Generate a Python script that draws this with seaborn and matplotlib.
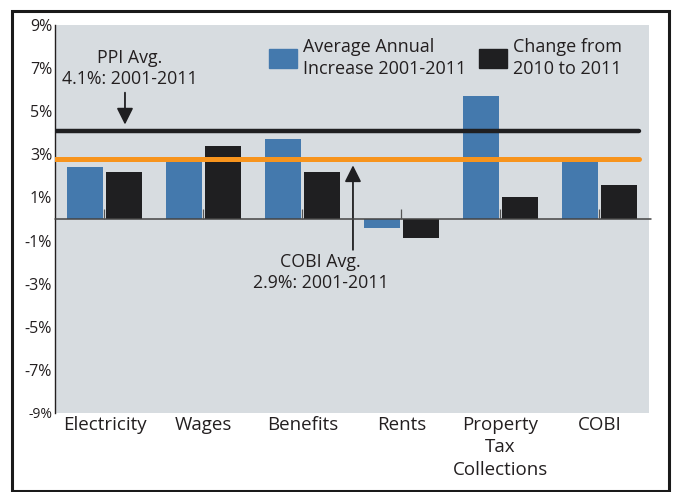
import pandas as pd
import numpy as np
import matplotlib
matplotlib.use("Agg")
import matplotlib.pyplot as plt
import matplotlib.patches as mpatches
import seaborn as sns

# datos
categorias = ["Electricity", "Wages", "Benefits", "Rents", "Property\nTax\nCollections", "COBI"]
promedio_anual = [2.4, 2.65, 3.7, -0.4, 5.7, 2.75]
cambio_2010_2011 = [2.2, 3.4, 2.2, -0.9, 1.0, 1.6]
series = ["Average Annual\nIncrease 2001-2011", "Change from\n2010 to 2011"]
ppi_avg = 4.1
cobi_avg = 2.8
yticks = [-9, -7, -5, -3, -1, 1, 3, 5, 7, 9]

azul = "#4479ad"
negro = "#1f1f21"
naranja = "#f7941d"
fondo = "#d7dce0"
texto = "#231f20"

df = pd.DataFrame({
    "Categoria": categorias * 2,
    "Valor": promedio_anual + cambio_2010_2011,
    "Serie": [series[0]] * len(categorias) + [series[1]] * len(categorias),
})

sns.set_style("white")
plt.rcParams["font.family"] = ["Open Sans", "DejaVu Sans"]

fig = plt.figure(figsize=(6.73, 4.92), dpi=100)
ax = fig.add_axes([0.0817, 0.1606, 0.8826, 0.7886])
ax.set_facecolor(fondo)

sns.barplot(data=df, x="Categoria", y="Valor", hue="Serie", palette=[azul, negro],
            width=0.77, gap=0.055, saturation=1, linewidth=0, ax=ax, legend=False)

# lineas de referencia
ax.axhline(ppi_avg, xmin=0, xmax=0.983, color=negro, lw=3.2, zorder=3)
ax.axhline(cobi_avg, xmin=0, xmax=0.983, color=naranja, lw=3.6, zorder=3)
ax.axhline(0, xmin=0, xmax=1.004, color="#444444", lw=1.1, zorder=4, clip_on=False)
ax.vlines(np.arange(len(categorias)), 0, 0.45, color="#555555", lw=0.9, zorder=4)

ax.set_xlim(-0.5, len(categorias) - 0.5)
ax.set_ylim(-9, 9)
ax.set_yticks(yticks)
ax.set_yticklabels([f"{v}%" for v in yticks], fontsize=11.5, color=texto)
ax.get_yticklabels()[0].set_fontsize(10)
ax.tick_params(axis="y", direction="in", length=11, width=1.1, color="#666666", pad=2)
ax.tick_params(axis="x", length=0, pad=2, labelsize=13.5, labelcolor=texto)
for lbl in ax.get_xticklabels():
    lbl.set_linespacing(1.32)
ax.set_xlabel("")
ax.set_ylabel("")
for s in ["top", "right", "bottom"]:
    ax.spines[s].set_visible(False)
ax.spines["left"].set_color(texto)
ax.spines["left"].set_linewidth(1.0)

# anotaciones
ax.annotate("", xy=(0.207, 4.38), xytext=(0.207, 5.86),
            arrowprops=dict(arrowstyle="-|>,head_length=0.5,head_width=0.25",
                            color=negro, lw=1.3, mutation_scale=20, shrinkA=0, shrinkB=0))
ax.text(0.258, 7.0, "PPI Avg.\n4.1%: 2001-2011", ha="center", va="center",
        fontsize=12.8, color=texto, linespacing=1.2)
ax.annotate("", xy=(2.51, 2.49), xytext=(2.51, -1.43),
            arrowprops=dict(arrowstyle="-|>,head_length=0.5,head_width=0.25",
                            color=negro, lw=1.3, mutation_scale=20, shrinkA=0, shrinkB=0))
ax.text(2.18, -2.5, "COBI Avg.\n2.9%: 2001-2011", ha="center", va="center",
        fontsize=12.8, color=texto, linespacing=1.2)

# leyenda
handles = [mpatches.Patch(color=azul), mpatches.Patch(color=negro)]
leg = ax.legend(handles, series, ncol=2, frameon=False, fontsize=13,
                loc="upper left", bbox_to_anchor=(0.345, 0.99), borderpad=0,
                handlelength=1.55, handleheight=1.22, handletextpad=0.33,
                columnspacing=0.72, labelcolor=texto)
for t in leg.get_texts():
    t.set_linespacing(1.28)

# marco exterior
fig.patches.append(mpatches.Rectangle((12 / 673, 1 / 492), 657 / 673, 480 / 492,
                                      transform=fig.transFigure, fill=False,
                                      edgecolor="#1a1a1a", lw=2.2))

fig.savefig("out.png", dpi=100)
